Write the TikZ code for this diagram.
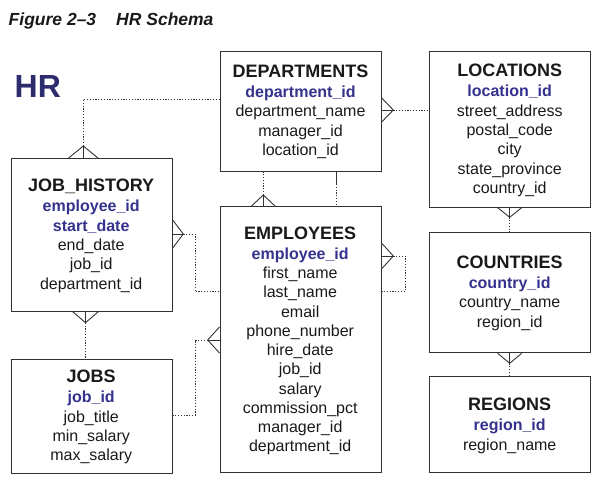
\documentclass[tikz,border=0pt]{standalone}
\usepackage{fontspec}
\setmainfont{Liberation Sans}
\usetikzlibrary{calc}
\definecolor{keyblue}{RGB}{52,50,140}
\definecolor{hrblue}{RGB}{45,45,110}
\definecolor{edgegray}{RGB}{50,50,50}
\definecolor{inkblack}{RGB}{25,25,25}
\newcommand\fldfont{\fontsize{16}{19.27}\selectfont}
\newcommand\ttlfont{\fontsize{18}{20}\selectfont\bfseries}
\newcommand\pk[1]{\textcolor{keyblue}{\bfseries #1}}
\newcommand\ent[2]{\begin{tabular}[t]{@{}c@{}}{\ttlfont #1}\\[1pt] #2\end{tabular}}
\newcommand\crowfoot[3]{%
  \draw[foot] ($(#1)+#3$) -- (#2) -- ($(#1)-#3$);
  \draw[foot] (#1) -- (#2);}
\begin{document}
\begin{tikzpicture}[x=1pt,y=-1pt,
  box/.style={draw=edgegray, line width=1pt, anchor=north west, inner sep=0pt, fill=none},
  lbl/.style={anchor=base, inner sep=0pt, font=\fldfont, text=inkblack},
  foot/.style={draw=edgegray, line width=0.9pt},
  conn/.style={draw=edgegray, line width=0.8pt, dash pattern=on 1.2pt off 1.6pt},
  solidconn/.style={draw=edgegray, line width=0.9pt}]
\useasboundingbox (0,0) rectangle (611,496);

% title and HR
\node[anchor=base west, inner sep=0pt, text=inkblack] (fig) at (8.5,25.5)
  {\fontsize{17.5}{20}\selectfont\bfseries\itshape Figure 2--3\hspace{20pt}HR Schema};
\node[anchor=base west, inner sep=0pt, text=hrblue] (hr) at (14.5,97.3)
  {\fontsize{32}{34}\selectfont\bfseries HR};

% boxes
\node[box, minimum width=161pt, minimum height=120pt] (dept) at (220,51) {};
\node[box, minimum width=160.7pt, minimum height=155.7pt] (loc) at (429.3,51) {};
\node[box, minimum width=161pt, minimum height=152.4pt] (jh) at (10.7,158.3) {};
\node[box, minimum width=161pt, minimum height=113.7pt] (jobs) at (10.7,359) {};
\node[box, minimum width=161.5pt, minimum height=266.3pt] (emp) at (219.5,206) {};
\node[box, minimum width=160.7pt, minimum height=120.6pt] (ctry) at (429.3,231.7) {};
\node[box, minimum width=160.7pt, minimum height=96.3pt] (reg) at (429.3,376) {};

% texts
\node[lbl] (deptL) at (300.5,77.3) {\ent{DEPARTMENTS}{\pk{department\_id}\\ department\_name\\ manager\_id\\ location\_id}};
\node[lbl] (locL) at (509.7,76.7) {\ent{LOCATIONS}{\pk{location\_id}\\ street\_address\\ postal\_code\\ city\\ state\_province\\ country\_id}};
\node[lbl] (jhL) at (91.2,191.7) {\ent{JOB\_HISTORY}{\pk{employee\_id}\\ \pk{start\_date}\\ end\_date\\ job\_id\\ department\_id}};
\node[lbl] (jobsL) at (91.2,382.7) {\ent{JOBS}{\pk{job\_id}\\ job\_title\\ min\_salary\\ max\_salary}};
\node[lbl] (empL) at (300.2,239) {\ent{EMPLOYEES}{\pk{employee\_id}\\ first\_name\\ last\_name\\ email\\ phone\_number\\ hire\_date\\ job\_id\\ salary\\ commission\_pct\\ manager\_id\\ department\_id}};
\node[lbl] (ctryL) at (509.7,268.3) {\ent{COUNTRIES}{\pk{country\_id}\\ country\_name\\ region\_id}};
\node[lbl] (regL) at (509.7,410.7) {\ent{REGIONS}{\pk{region\_id}\\ region\_name}};

% crow's foot apexes
\coordinate (jhTa) at (83.3,146);
\coordinate (jhBa) at (85.5,322.7);
\coordinate (jhRa) at (183.3,234);
\coordinate (empTa) at (263.3,195);
\coordinate (empLa) at (207.7,340);
\coordinate (empRa) at (393.3,256);
\coordinate (deptRa) at (393.3,110);
\coordinate (locBa) at (509.7,217.3);
\coordinate (ctryBa) at (509.7,363.3);
% edge points
\coordinate (jhTe) at (jh.north -| jhTa);
\coordinate (jhBe) at (jh.south -| jhBa);
\coordinate (jhRe) at (jh.east |- jhRa);
\coordinate (empTe) at (emp.north -| empTa);
\coordinate (empLe) at (emp.west |- empLa);
\coordinate (empRe) at (emp.east |- empRa);
\coordinate (deptRe) at (dept.east |- deptRa);
\coordinate (locBe) at (loc.south -| locBa);
\coordinate (ctryBe) at (ctry.south -| ctryBa);
% bends
\coordinate (y99) at (0,99.3);
\coordinate (c1) at (195,291.7);
\coordinate (c2) at (195,415);
\coordinate (c3) at (336.7,184);
\coordinate (c4) at (405,291.7);

% crow's feet
\crowfoot{jhTe}{jhTa}{(15,0)}
\crowfoot{jhBe}{jhBa}{(12.8,0)}
\crowfoot{jhRe}{jhRa}{(0,14)}
\crowfoot{empTe}{empTa}{(11.7,0)}
\crowfoot{empLe}{empLa}{(0,13)}
\crowfoot{empRe}{empRa}{(0,12.5)}
\crowfoot{deptRe}{deptRa}{(0,11.7)}
\crowfoot{locBe}{locBa}{(12,0)}
\crowfoot{ctryBe}{ctryBa}{(12,0)}

% connectors
\draw[conn] (jhTa) |- (dept.west |- y99);
\draw[conn] (jhBa) -- (jobs.north -| jhBa);
\draw[conn] (jhRa) -| (c1) -- (emp.west |- c1);
\draw[conn] (empLa) -| (c2) -- (jobs.east |- c2);
\draw[conn] (empTa) -- (dept.south -| empTa);
\draw[solidconn] (dept.south -| c3) -- (c3);
\draw[conn] (c3) -- (emp.north -| c3);
\draw[conn] (deptRa) -- (loc.west |- deptRa);
\draw[conn] (empRa) -| (c4) -- (emp.east |- c4);
\draw[conn] (locBa) -- (ctry.north -| locBa);
\draw[conn] (ctryBa) -- (reg.north -| ctryBa);
\end{tikzpicture}
\end{document}
